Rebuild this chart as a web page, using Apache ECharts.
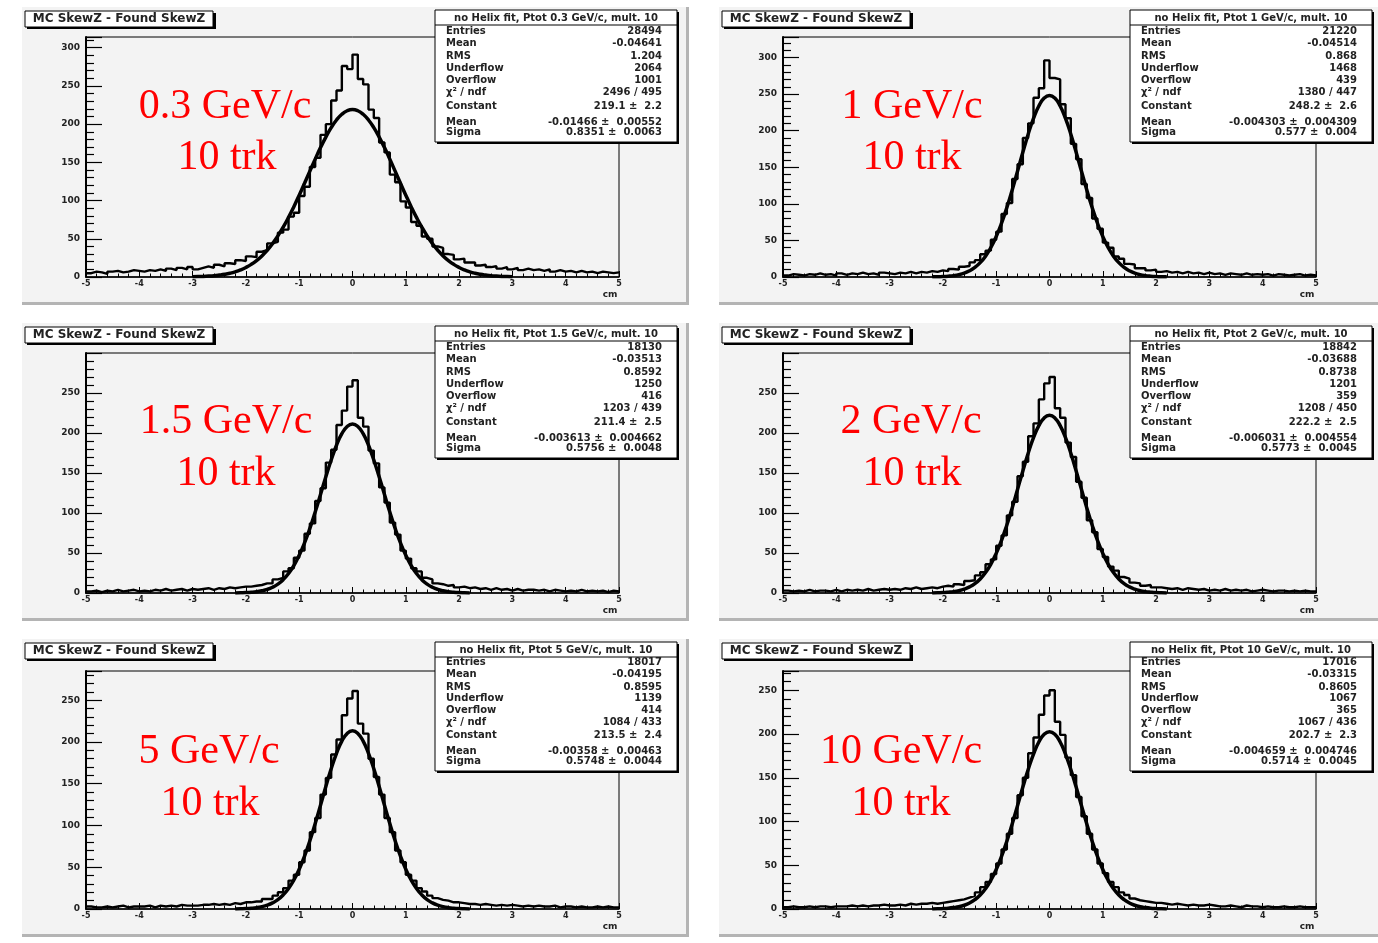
<!DOCTYPE html>
<html><head><meta charset="utf-8">
<script src="https://cdn.jsdelivr.net/npm/echarts@6.0.0/dist/echarts.min.js"></script>
<style>html,body{margin:0;padding:0;background:#fff}#c{width:1378px;height:943px}</style>
</head><body><div id="c"></div>
<script>
// ---------------- DATA ----------------
// histogram: 100 bins of 0.1 cm from -5 to 5 (counts per 0.02 cm bin)
const binLow = -5, binWidth = 0.1;
const xTicks = [-5,-4,-3,-2,-1,0,1,2,3,4,5];
const yTickStep = 50;

const hist03 = [5,7,6,4,7,8,6,7,9,8, 7,9,8,10,8,11,9,12,10,13, 10,12,14,12,16,14,18,17,22,21, 27,26,33,35,44,46,58,62,79,84, 106,118,144,156,186,200,231,244,276,272, 291,259,252,219,208,176,163,134,124,99, 91,72,67,53,50,40,38,30,29,23, 24,19,19,15,16,13,14,11,13,10, 12,9,11,9,10,8,10,7,9,7, 8,6,8,6,7,5,7,6,5,6];
const hist1 = [2,4,3,2,4,3,5,3,4,2, 5,3,5,4,6,4,5,3,6,5, 4,6,5,7,5,7,6,8,7,9, 8,11,10,14,15,20,23,31,36,51, 62,86,101,134,154,190,210,245,258,296, 272,270,236,217,182,161,127,108,80,66, 47,40,28,25,18,17,12,12,9,10, 7,8,6,7,5,7,5,6,4,6, 4,5,3,5,4,3,5,3,4,3, 4,2,4,3,2,3,4,2,3,2];
const hist15 = [2,3,1,3,2,4,2,3,4,2, 3,2,4,3,5,3,4,5,3,5, 4,5,6,4,6,5,7,6,7,8, 8,9,10,12,12,17,19,27,31,44, 53,74,87,115,131,163,179,210,228,258, 266,219,208,178,162,132,113,88,73,53, 43,31,27,19,17,12,11,9,10,7, 8,6,7,5,6,4,6,4,5,3, 5,3,4,4,3,4,2,4,3,2, 3,2,4,2,3,2,3,1,3,2];
const hist2 = [3,2,3,2,4,2,3,3,2,4, 2,4,3,4,3,5,3,4,5,4, 5,4,6,5,7,5,6,7,6,8, 9,8,11,10,15,16,22,26,36,42, 59,72,97,114,146,164,196,212,242,262, 270,231,219,188,170,139,119,91,76,55, 45,33,28,20,18,13,12,9,10,7, 7,6,5,6,4,6,5,4,5,3, 4,3,5,3,4,3,4,2,3,4, 3,2,3,3,2,3,2,3,2,2];
const hist5 = [3,2,2,3,2,3,4,2,3,3, 3,4,2,4,3,4,3,5,4,4, 4,5,5,6,5,6,5,7,6,8, 8,9,9,12,12,16,20,25,34,41, 56,70,92,109,137,157,185,203,232,252, 261,222,210,180,158,137,109,92,70,56, 41,34,25,21,16,13,11,10,8,8, 7,6,6,5,6,5,4,5,4,5, 4,3,4,3,4,3,3,4,2,3, 3,2,3,2,2,3,2,3,2,2];
const hist10 = [2,3,2,2,3,2,3,3,2,3, 3,3,4,3,4,3,4,4,5,4, 4,5,4,6,5,6,6,7,6,7, 8,9,10,11,13,15,19,25,31,40, 52,68,86,104,130,150,178,196,222,244, 250,214,199,173,153,128,106,86,68,52, 41,31,25,19,16,12,10,9,8,7, 7,6,5,6,5,4,5,4,4,5, 4,3,3,4,3,2,4,3,3,2, 3,2,2,3,2,2,3,2,2,2];

// gaussian fit curve, values at |x| = 0, 0.1, 0.2 ... (curve is symmetric)
const fitStep = 0.1;
const fit03 = [219.1,217.5,212.9,205.4,195.4,183.1,169.3,154.2,138.5,122.6,107.0,92.0,78.0,65.2,53.8,43.7,35.0,27.6,21.5,16.5,12.5,9.3,6.8,4.9,3.5,2.5,1.7,1.2,0.8,0.5,0.3];
const fit1  = [248.2,244.5,233.7,216.8,195.2,170.5,144.5,118.9,94.9,73.5,55.3,40.3,28.5,19.6,13.1,8.5,5.3,3.2,1.9,1.1,0.6,0.3,0.2];
const fit15 = [211.4,208.2,199.1,184.7,166.2,145.2,123.1,101.3,80.8,62.6,47.1,34.3,24.3,16.7,11.1,7.2,4.5,2.8,1.6,0.9,0.5,0.3,0.1];
const fit2  = [222.2,218.9,209.2,194.1,174.7,152.6,129.4,106.4,85.0,65.8,49.5,36.1,25.6,17.6,11.7,7.6,4.8,2.9,1.7,1.0,0.5,0.3,0.1];
const fit5  = [213.5,210.3,201.1,186.5,167.9,146.7,124.3,102.3,81.7,63.3,47.6,34.7,24.6,16.9,11.2,7.3,4.6,2.8,1.6,0.9,0.5,0.3,0.1];
const fit10 = [202.7,199.6,190.9,177.1,159.4,139.3,118.0,97.1,77.5,60.1,45.1,32.9,23.3,16.0,10.7,6.9,4.3,2.6,1.6,0.9,0.5,0.2,0.1];

const yMaxes = [314, 328, 300, 300, 285, 272];
const momenta = ['0.3', '1', '1.5', '2', '5', '10'];
const padTitle = 'MC SkewZ - Found SkewZ';
const statLabels = ['Entries','Mean','RMS','Underflow','Overflow','\u03c7\u00b2 / ndf','Constant','Mean','Sigma'];
const stats03 = ['28494','-0.04641','1.204','2064','1001','2496 / 495','219.1 \u00b1  2.2','-0.01466 \u00b1  0.00552','0.8351 \u00b1  0.0063'];
const stats1  = ['21220','-0.04514','0.868','1468','439','1380 / 447','248.2 \u00b1  2.6','-0.004303 \u00b1  0.004309','0.577 \u00b1  0.004'];
const stats15 = ['18130','-0.03513','0.8592','1250','416','1203 / 439','211.4 \u00b1  2.5','-0.003613 \u00b1  0.004662','0.5756 \u00b1  0.0048'];
const stats2  = ['18842','-0.03688','0.8738','1201','359','1208 / 450','222.2 \u00b1  2.5','-0.006031 \u00b1  0.004554','0.5773 \u00b1  0.0045'];
const stats5  = ['18017','-0.04195','0.8595','1139','414','1084 / 433','213.5 \u00b1  2.4','-0.00358 \u00b1  0.00463','0.5748 \u00b1  0.0044'];
const stats10 = ['17016','-0.03315','0.8605','1067','365','1067 / 436','202.7 \u00b1  2.3','-0.004659 \u00b1  0.004746','0.5714 \u00b1  0.0045'];

// ---------------- LAYOUT ----------------
const hists = [hist03, hist1, hist15, hist2, hist5, hist10];
const fits = [fit03, fit1, fit15, fit2, fit5, fit10];
const stats = [stats03, stats1, stats15, stats2, stats5, stats10];
const redPos = [[225,107,227,158],[912,107,912,158],[226,422,226,474],[911,422,912,474],[209,752,210,804],[901,752,901,804]];
const rowOY = [0, 316, 632];
const frameTop = [37, 353, 671];
const frameH = [240, 240, 238];
const statH = [132, 132, 129];

const grids = [], xAxes = [], yAxes = [], series = [], elements = [];
const F = '"DejaVu Sans", Verdana, sans-serif';

for (let k = 0; k < 6; k++) {
  const c = k % 2, r = Math.floor(k / 2);
  const ox = c * 697, oy = rowOY[r];
  grids.push({left: 86 + ox, top: frameTop[r], width: 533, height: frameH[r], show: true,
    backgroundColor: 'transparent', borderColor: '#000', borderWidth: 1, containLabel: false});
  xAxes.push({type: 'value', gridIndex: k, min: xTicks[0], max: xTicks[xTicks.length-1], interval: 1,
    axisLine: {show: true, onZero: false, lineStyle: {color: '#000', width: 1.5}},
    axisTick: {show: true, inside: true, length: 6, lineStyle: {color: '#000', width: 1}},
    minorTick: {show: true, splitNumber: 5, length: 3.5, lineStyle: {color: '#000', width: 1}},
    axisLabel: {show: true, margin: 3, fontSize: 8, fontWeight: 'bold', color: '#222', fontFamily: F},
    splitLine: {show: false}, minorSplitLine: {show: false}});
  yAxes.push({type: 'value', gridIndex: k, min: 0, max: yMaxes[k], interval: yTickStep,
    axisLine: {show: true, onZero: false, lineStyle: {color: '#000', width: 2}},
    axisTick: {show: true, inside: true, length: 16, lineStyle: {color: '#000', width: 1.2}},
    minorTick: {show: true, splitNumber: 5, length: 8, lineStyle: {color: '#000', width: 1.2}},
    axisLabel: {show: true, margin: 6, fontSize: 9, fontWeight: 'bold', color: '#222', fontFamily: F, showMaxLabel: false},
    splitLine: {show: false}, minorSplitLine: {show: false}});

  const h = hists[k];
  const hp = h.map((v, i) => [+(binLow + i * binWidth).toFixed(2), v]);
  hp.push([binLow + h.length * binWidth, h[h.length - 1]]);
  series.push({type: 'line', xAxisIndex: k, yAxisIndex: k, data: hp, step: 'end', symbol: 'none',
    lineStyle: {color: '#000', width: 2.4}, z: 3, silent: true});
  const fh = fits[k];
  const fy = fh.slice(1).reverse().concat(fh);
  const n0 = fh.length - 1;
  const fp = fy.map((v, i) => [+((i - n0) * fitStep).toFixed(2), v]);
  series.push({type: 'line', xAxisIndex: k, yAxisIndex: k, data: fp, smooth: true, symbol: 'none',
    lineStyle: {color: '#000', width: 3.5}, z: 4, silent: true});

  // pad background and bevel
  elements.push({type: 'rect', z: -10, shape: {x: 22 + ox, y: 7 + oy, width: 666, height: 297}, style: {fill: '#f3f3f3'}});
  elements.push({type: 'rect', z: -9, shape: {x: 22 + ox, y: 302 + oy, width: 666, height: 3}, style: {fill: '#b4b4b4'}});
  elements.push({type: 'rect', z: -9, shape: {x: 686 + ox, y: 7 + oy, width: 3, height: 298}, style: {fill: '#b4b4b4'}});
  // pad title box
  elements.push({type: 'rect', z: 50, shape: {x: 27 + ox, y: 13 + oy, width: 189, height: 16}, style: {fill: '#000'}});
  elements.push({type: 'rect', z: 51, shape: {x: 25 + ox, y: 11 + oy, width: 188, height: 16}, style: {fill: '#fff', stroke: '#000', lineWidth: 1}});
  elements.push({type: 'text', z: 52, style: {text: padTitle, x: 119 + ox, y: 19 + oy, align: 'center', verticalAlign: 'middle',
    textAlign: 'center', textVerticalAlign: 'middle', font: 'bold 12px ' + F, fill: '#222'}});
  // stats box
  const sx = 435 + c * 695, sy = 10 + oy, sw = 242, sh = statH[r];
  elements.push({type: 'rect', z: 50, shape: {x: sx + 2, y: sy + 2, width: sw, height: sh}, style: {fill: '#000'}});
  elements.push({type: 'rect', z: 51, shape: {x: sx, y: sy, width: sw, height: sh}, style: {fill: '#fff', stroke: '#000', lineWidth: 1}});
  elements.push({type: 'line', z: 52, shape: {x1: sx, y1: sy + 15, x2: sx + sw, y2: sy + 15}, style: {stroke: '#000', lineWidth: 1}});
  elements.push({type: 'text', z: 52, style: {text: 'no Helix fit, Ptot ' + momenta[k] + ' GeV/c, mult. 10', x: sx + sw / 2, y: sy + 8,
    align: 'center', verticalAlign: 'middle', textAlign: 'center', textVerticalAlign: 'middle', font: 'bold 10px ' + F, fill: '#222'}});
  const rowOff = [21, 33, 46, 58, 70, 82, 96, 112, 122];
  for (let j = 0; j < statLabels.length; j++) {
    const yy = sy + rowOff[j] * sh / 132;
    elements.push({type: 'text', z: 52, style: {text: statLabels[j], x: sx + 11, y: yy, align: 'left', verticalAlign: 'middle',
      textAlign: 'left', textVerticalAlign: 'middle', font: 'bold 10px ' + F, fill: '#222'}});
    elements.push({type: 'text', z: 52, style: {text: stats[k][j], x: sx + 227, y: yy, align: 'right', verticalAlign: 'middle',
      textAlign: 'right', textVerticalAlign: 'middle', font: 'bold 10px ' + F, fill: '#222'}});
  }
  // axis title
  elements.push({type: 'text', z: 52, style: {text: 'cm', x: 610 + ox, y: 295 + oy, align: 'center', verticalAlign: 'middle',
    textAlign: 'center', textVerticalAlign: 'middle', font: 'bold 9px ' + F, fill: '#222'}});
  // red annotations
  const rp = redPos[k];
  elements.push({type: 'text', z: 40, style: {text: momenta[k] + ' GeV/c', x: rp[0], y: rp[1], align: 'center', verticalAlign: 'middle',
    textAlign: 'center', textVerticalAlign: 'middle', font: '42px "Liberation Serif", "Times New Roman", serif', fill: '#ff0000'}});
  elements.push({type: 'text', z: 40, style: {text: '10 trk', x: rp[2], y: rp[3], align: 'center', verticalAlign: 'middle',
    textAlign: 'center', textVerticalAlign: 'middle', font: '42px "Liberation Serif", "Times New Roman", serif', fill: '#ff0000'}});
}

const chart = echarts.init(document.getElementById('c'), null, {renderer: 'canvas'});
chart.setOption({
  animation: false,
  backgroundColor: '#ffffff',
  grid: grids, xAxis: xAxes, yAxis: yAxes, series: series,
  graphic: {elements: elements}
});
</script></body></html>
